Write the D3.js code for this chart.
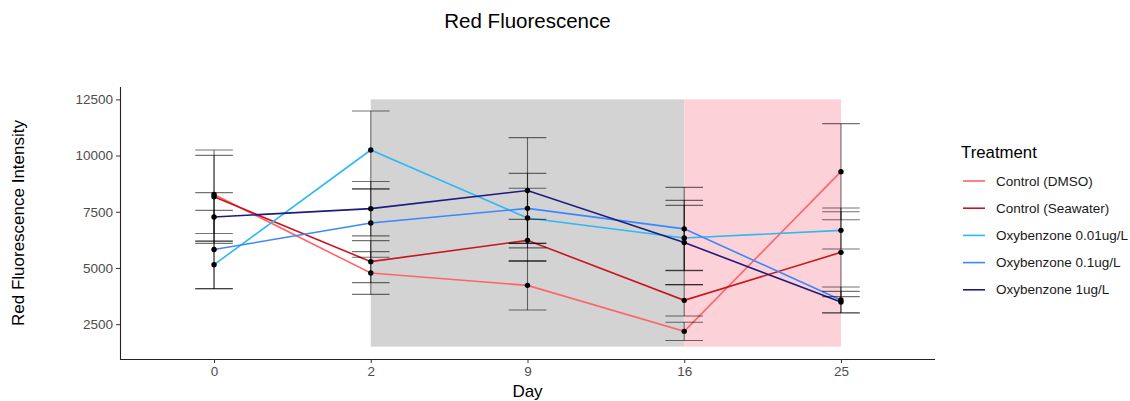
<!DOCTYPE html>
<html>
<head>
<meta charset="utf-8">
<script src="https://cdn.jsdelivr.net/npm/d3@7"></script>
<style>
  body { margin: 0; background: #fff; }
  svg { font-family: "Liberation Sans", Arial, sans-serif; }
</style>
</head>
<body>
<div id="chart"></div>
<script>
// Data
const days = ["0", "2", "9", "16", "25"];
const treatments = ["Control (DMSO)", "Control (Seawater)", "Oxybenzone 0.01ug/L", "Oxybenzone 0.1ug/L", "Oxybenzone 1ug/L"];

const meanDMSO = [8270, 4774, 4226, 2180, 9283];
const seDMSO = [1740, 951, 1099, 405, 2136];
const meanSeawater = [8170, 5280, 6228, 3559, 5694];
const seSeawater = [2076, 934, 934, 698, 1971];
const meanOxy001 = [5145, 10246, 7220, 6331, 6673];
const seOxy001 = [1067, 1734, 1325, 1454, 830];
const meanOxy01 = [5820, 6997, 7651, 6739, 3573];
const seOxy01 = [1741, 1519, 1557, 1846, 578];
const meanOxy1 = [7265, 7638, 8445, 6132, 3483];
const seOxy1 = [1085, 1210, 2351, 1875, 476];

const means = [meanDMSO, meanSeawater, meanOxy001, meanOxy01, meanOxy1];
const ses = [seDMSO, seSeawater, seOxy001, seOxy01, seOxy1];

// shaded periods: [startDay, endDay, yMin, yMax]
const periods = [["2", "16", 1500, 12500], ["16", "25", 1500, 12500]];
const periodFill = ["#d3d3d3", "#fdd1d8"];

const palette = ["#ff6468", "#c8161e", "#2db8f6", "#3a87ff", "#1c1c7e"];

const width = 1130, height = 401;
const margin = { left: 120, right: 195, top: 87, bottom: 42 };

const svg = d3.select("#chart").append("svg")
    .attr("width", width)
    .attr("height", height);

const x = d3.scalePoint()
    .domain(days)
    .range([margin.left, width - margin.right])
    .padding(0.6);

const y = d3.scaleLinear()
    .domain([950, 13050])
    .range([height - margin.bottom, margin.top]);

// Background periods
svg.append("g")
    .selectAll("rect")
    .data(periods)
    .join("rect")
    .attr("x", d => x(d[0]))
    .attr("width", d => x(d[1]) - x(d[0]))
    .attr("y", d => y(d[3]))
    .attr("height", d => y(d[2]) - y(d[3]))
    .attr("fill", (d, i) => periodFill[i]);

// Series table
const series = treatments.map((t, i) => ({
    name: t,
    color: palette[i],
    values: days.map((day, j) => ({ day, mean: means[i][j], se: ses[i][j] }))
}));

const line = d3.line()
    .x(d => x(d.day))
    .y(d => y(d.mean));

svg.append("g")
    .selectAll("path")
    .data(series)
    .join("path")
    .attr("fill", "none")
    .attr("stroke", d => d.color)
    .attr("stroke-width", 1.6)
    .attr("d", d => line(d.values));

// Error bars
const allPts = series.flatMap(s => s.values);
const capHalf = x.step() * 0.12;
const eb = svg.append("g")
    .attr("stroke", "#000")
    .attr("stroke-opacity", 0.55)
    .attr("stroke-width", 1.1);

allPts.forEach(p => {
    const cx = x(p.day);
    const top = y(p.mean + p.se), bot = y(p.mean - p.se);
    eb.append("line").attr("x1", cx).attr("x2", cx).attr("y1", top).attr("y2", bot);
    eb.append("line").attr("x1", cx - capHalf).attr("x2", cx + capHalf).attr("y1", top).attr("y2", top);
    eb.append("line").attr("x1", cx - capHalf).attr("x2", cx + capHalf).attr("y1", bot).attr("y2", bot);
});

// Points
svg.append("g")
    .selectAll("circle")
    .data(allPts)
    .join("circle")
    .attr("cx", d => x(d.day))
    .attr("cy", d => y(d.mean))
    .attr("r", 2.7)
    .attr("fill", "#000");

// Axes
const xAxis = svg.append("g")
    .attr("transform", `translate(0,${height - margin.bottom})`)
    .call(d3.axisBottom(x).tickSizeOuter(0).tickSize(4).tickPadding(3));
xAxis.select(".domain").attr("d", `M${margin.left},0.5H${width - margin.right}`);

const yAxis = svg.append("g")
    .attr("transform", `translate(${margin.left},0)`)
    .call(d3.axisLeft(y).tickValues([2500, 5000, 7500, 10000, 12500]).tickFormat(d3.format("d")).tickSizeOuter(0).tickSize(4).tickPadding(3));
yAxis.select(".domain").attr("d", `M0.5,${margin.top}V${height - margin.bottom}`);

[xAxis, yAxis].forEach(a => {
    a.select(".domain").attr("stroke", "#222").attr("stroke-width", 1.1);
    a.selectAll(".tick line").attr("stroke", "#333");
    a.selectAll(".tick text")
        .attr("fill", "#4d4d4d")
        .style("font-size", "13.5px")
        .style("font-family", "Liberation Sans, Arial, sans-serif");
});

// Titles
svg.append("text")
    .attr("x", (margin.left + width - margin.right) / 2)
    .attr("y", 28)
    .attr("text-anchor", "middle")
    .style("font-size", "20.5px")
    .attr("fill", "#000")
    .text("Red Fluorescence");

svg.append("text")
    .attr("x", (margin.left + width - margin.right) / 2)
    .attr("y", 397)
    .attr("text-anchor", "middle")
    .style("font-size", "17px")
    .text("Day");

svg.append("text")
    .attr("transform", `translate(24,${(margin.top + height - margin.bottom) / 2}) rotate(-90)`)
    .attr("text-anchor", "middle")
    .style("font-size", "17px")
    .text("Red Fluorescence Intensity");

// Legend
const legend = svg.append("g").attr("transform", "translate(961,0)");
legend.append("text")
    .attr("x", 0)
    .attr("y", 158)
    .style("font-size", "16.8px")
    .text("Treatment");

series.forEach((s, i) => {
    const row = legend.append("g").attr("transform", `translate(0,${181 + i * 27.2})`);
    row.append("line")
        .attr("x1", 2).attr("x2", 24)
        .attr("stroke", s.color)
        .attr("stroke-width", 1.6);
    row.append("text")
        .attr("x", 35)
        .attr("y", 4.5)
        .style("font-size", "13.5px")
        .attr("fill", "#1a1a1a")
        .text(s.name);
});
</script>
</body>
</html>
